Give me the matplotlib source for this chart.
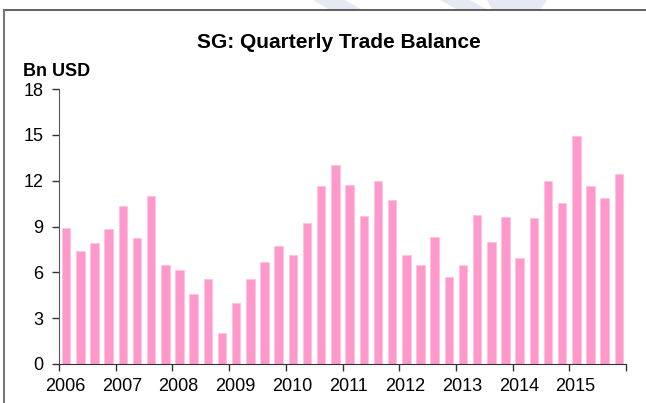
import numpy as np
import matplotlib.pyplot as plt
from matplotlib.patches import Polygon

plt.rcParams['font.family'] = ['Liberation Sans', 'DejaVu Sans']

# Quarterly trade balance, Bn USD, 2006Q1 - 2015Q4
years = [2006, 2007, 2008, 2009, 2010, 2011, 2012, 2013, 2014, 2015]
balance = [8.88, 7.40, 7.92, 8.84,
           10.36, 8.23, 11.0, 6.50,
           6.17, 4.58, 5.56, 2.05,
           3.99, 5.59, 6.70, 7.72,
           7.11, 9.25, 11.67, 13.05,
           11.74, 9.67, 12.0, 10.74,
           7.16, 6.46, 8.29, 5.69,
           6.46, 9.78, 7.99, 9.62,
           6.96, 9.56, 12.0, 10.52,
           14.92, 11.67, 10.84, 12.42]
yticks = [0, 3, 6, 9, 12, 15, 18]

W, H = 646, 403
fig = plt.figure(figsize=(W / 100, H / 100), dpi=100)

# faint watermark pieces peeking above the frame
for pts in ([[313, 0], [345, 0], [362, 10], [330, 10]],
            [[440, 0], [470, 0], [488, 10], [458, 10]],
            [[487, 0], [547, 0], [540, 10], [492, 10]]):
    fig.patches.append(Polygon([[px / W, 1 - py / H] for px, py in pts], closed=True,
                               transform=fig.transFigure, facecolor='#e6e8f4',
                               edgecolor='none', zorder=0))

# grey frame at top and left
fig.add_artist(plt.Line2D([4 / W, 1.0], [1 - 10 / H, 1 - 10 / H], transform=fig.transFigure,
                          color='#444444', lw=1.2))
fig.add_artist(plt.Line2D([4 / W, 4 / W], [0.0, 1 - 10 / H], transform=fig.transFigure,
                          color='#777777', lw=1.5))

ax = fig.add_axes([59 / W, 1 - 364 / H, (626 - 59) / W, (364 - 89) / H])
ax.patch.set_alpha(0)

x = years[0] + (np.arange(len(balance)) + 0.5) / 4
ax.bar(x, balance, width=0.15, color='#ff99cc', edgecolor='#ffc2e0', linewidth=0.6)

ax.set_xlim(years[0], years[-1] + 1)
ax.set_ylim(0, 18)
ax.set_yticks(yticks)
ax.set_yticklabels([str(v) for v in yticks], fontsize=13)

ax.set_xticks(list(years) + [years[-1] + 1])
ax.set_xticklabels([])
ax.set_xticks([y + 0.11 for y in years], minor=True)
ax.set_xticklabels([str(y) for y in years], minor=True, fontsize=13)
ax.tick_params(axis='x', which='minor', length=0, pad=10)
ax.tick_params(axis='x', which='major', length=5, width=1, color='#333333')
ax.tick_params(axis='y', length=5, width=1, color='#333333', pad=6)

for s in ['top', 'right']:
    ax.spines[s].set_visible(False)
ax.spines['left'].set_color('#555555')
ax.spines['bottom'].set_color('#333333')

fig.text(339 / W, 1 - 43 / H, 'SG: Quarterly Trade Balance', ha='center', va='center',
         fontsize=15, fontweight='bold')
fig.text(23 / W, 1 - 71 / H, 'Bn USD', ha='left', va='center',
         fontsize=13, fontweight='bold')

fig.savefig('out.png', dpi=100)
